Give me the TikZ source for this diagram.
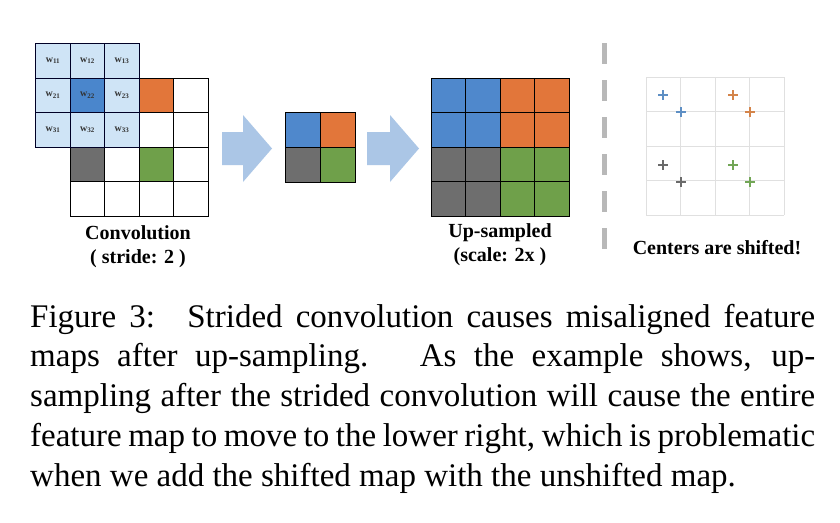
\documentclass[tikz,border=0pt]{standalone}
\usepackage{fontspec}
\setmainfont{Liberation Serif}
\definecolor{cblue}{HTML}{4F88CC}
\definecolor{corange}{HTML}{E2763A}
\definecolor{cgray}{HTML}{6E6E6E}
\definecolor{cgreen}{HTML}{6FA04A}
\definecolor{klight}{HTML}{CFE4F6}
\definecolor{kdark}{HTML}{4A86CC}
\definecolor{arrowblue}{HTML}{ABC6E6}
\definecolor{pblue}{HTML}{5E8FC4}
\definecolor{porange}{HTML}{D4844A}
\definecolor{pgray}{HTML}{6A6A6A}
\definecolor{pgreen}{HTML}{72A656}
\tikzset{
  cellline/.style={draw=black, line width=1pt},
  kcell/.style={draw=black!85!blue, line width=1pt, fill=klight},
  bigarrow/.style={fill=arrowblue, draw=none},
  lbl/.style={font=\fontsize{20}{24}\selectfont\bfseries, inner sep=0pt, align=center},
  klabel/.style={font=\fontsize{10}{10}\selectfont\bfseries, text=black!80, inner sep=0pt},
  pgrid/.style={draw=black!12, line width=0.8pt},
  plus/.style={line width=1.2pt},
}
\newcommand{\kw}[1]{w\raisebox{-1.4pt}{\fontsize{7}{7}\selectfont #1}}
\begin{document}
\begin{tikzpicture}[x=1pt,y=-1pt]
\useasboundingbox (0,0) rectangle (840,522);
\fill[white] (0,0) rectangle (840,522);
% ---- input grid with strided outputs ----
\fill[corange] (139,78) rectangle ++(34.5,34.5);
\fill[cgray] (70,147) rectangle ++(34.5,34.5);
\fill[cgreen] (139,147) rectangle ++(34.5,34.5);
\foreach \i in {0,...,3}
  \foreach \j in {0,...,3}
    \draw[cellline] (70+34.5*\i,78+34.5*\j) rectangle ++(34.5,34.5);
% ---- kernel ----
\foreach \i in {0,1,2}
  \foreach \j in {0,1,2}
    \draw[kcell] (35.5+34.5*\i,43.5+34.5*\j) rectangle ++(34.5,34.5);
\draw[kcell, fill=kdark] (70,78) rectangle ++(34.5,34.5);
\foreach \i in {1,2,3}
  \foreach \j in {1,2,3}
    \node[klabel] (k\j\i) at (35.5+34.5*\i-17.25,43.5+34.5*\j-17.25) {\kw{\j\i}};
\node[lbl] (conv) at (138,233) {Convolution};
\node[lbl] (stride) at (138,259) {( stride: 2 )};
% ---- arrow 1 ----
\fill[bigarrow] (222,132) -- (243,132) -- (243,115) -- (272,148.5) -- (243,182) -- (243,165) -- (222,165) -- cycle;
% ---- small 2x2 output ----
\fill[cblue] (285,112) rectangle ++(35,35);
\fill[corange] (320,112) rectangle ++(35,35);
\fill[cgray] (285,147) rectangle ++(35,35);
\fill[cgreen] (320,147) rectangle ++(35,35);
\foreach \i in {0,1}
  \foreach \j in {0,1}
    \draw[cellline] (285+35*\i,112+35*\j) rectangle ++(35,35);
% ---- arrow 2 ----
\fill[bigarrow] (367,132) -- (390,132) -- (390,115) -- (419,148.5) -- (390,182) -- (390,165) -- (367,165) -- cycle;
% ---- up-sampled ----
\fill[cblue] (431,78) rectangle ++(69,69);
\fill[corange] (500,78) rectangle ++(69,69);
\fill[cgray] (431,147) rectangle ++(69,69);
\fill[cgreen] (500,147) rectangle ++(69,69);
\foreach \i in {0,...,3}
  \foreach \j in {0,...,3}
    \draw[cellline] (431+34.5*\i,78+34.5*\j) rectangle ++(34.5,34.5);
\node[lbl] (ups) at (500,233) {Up-sampled};
\node[lbl] (scale) at (500,257) {(scale: 2x )};
% ---- dashed separator ----
\draw[line width=4.5pt, draw=black!28, dash pattern=on 21pt off 16pt] (604.5,43) -- (604.5,252);
% ---- shifted centres ----
\foreach \i in {0,...,4} {
  \draw[pgrid] (646+34.5*\i,77) -- (646+34.5*\i,215);
  \draw[pgrid] (646,77+34.5*\i) -- (784,77+34.5*\i);
}
\foreach \x/\y/\c in {663/95/pblue, 681/112/pblue, 733/95/porange, 750/112/porange,
                      663/165/pgray, 681/182/pgray, 733/165/pgreen, 750/182/pgreen}
  \draw[plus, draw=\c] (\x-5,\y) -- (\x+5,\y) (\x,\y-5) -- (\x,\y+5);
\node[lbl] (shift) at (717,248) {Centers are shifted!};
% ---- caption ----
\node[anchor=base west, inner sep=0pt, text width=785pt, align=justify,
      font=\fontsize{33}{39.8}\selectfont] (cap) at (30,327)
  {Figure 3:\hspace{0.35em} Strided convolution causes misaligned feature\linebreak
   maps after up-sampling.\hspace{0.4em} As the example shows, up-\linebreak
   sampling after the strided convolution will cause the entire\linebreak
   feature map to move to the lower right, which is problematic\linebreak
   when we add the shifted map with the unshifted map.};
\end{tikzpicture}
\end{document}
